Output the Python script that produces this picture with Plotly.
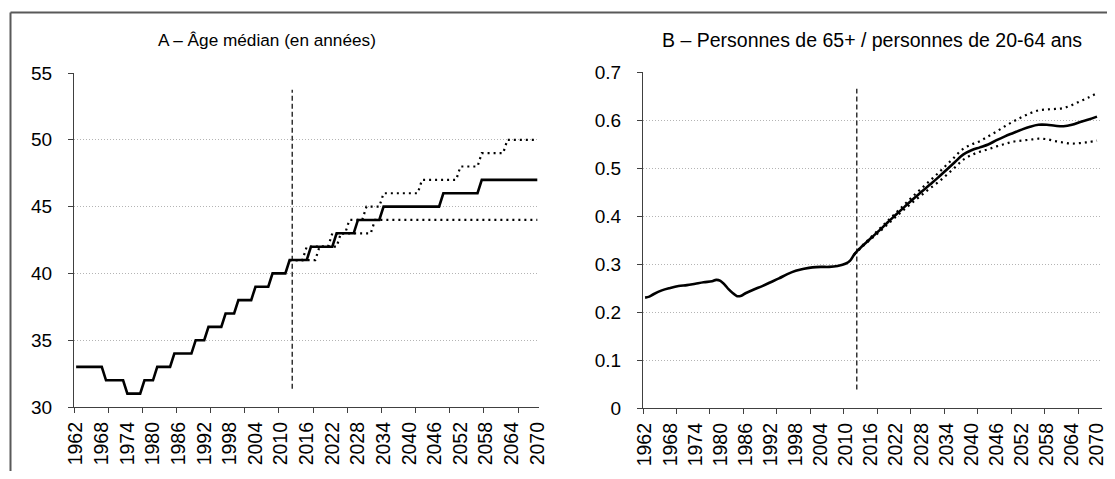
import plotly.graph_objects as go

# ---------------- data ----------------
YEARS = list(range(1962, 2071))
PROJ_YEARS = list(range(2012, 2071))

AGE_CENTRAL = [33, 33, 33, 33, 33, 33, 33,
               32, 32, 32, 32, 32,
               31, 31, 31, 31,
               32, 32, 32,
               33, 33, 33, 33,
               34, 34, 34, 34, 34,
               35, 35, 35,
               36, 36, 36, 36,
               37, 37, 37,
               38, 38, 38, 38,
               39, 39, 39, 39,
               40, 40, 40, 40,
               41, 41, 41, 41, 41,
               42, 42, 42, 42, 42, 42,
               43, 43, 43, 43, 43,
               44, 44, 44, 44, 44, 44,
               45, 45, 45, 45, 45, 45, 45, 45, 45, 45, 45, 45, 45, 45,
               46, 46, 46, 46, 46, 46, 46, 46, 46,
               47, 47, 47, 47, 47, 47, 47, 47, 47, 47, 47, 47, 47, 47]

AGE_HIGH = [41, 41, 41, 41,
            42, 42, 42, 42, 42, 42,
            43, 43, 43, 43,
            44, 44, 44, 44,
            45, 45, 45, 45,
            46, 46, 46, 46, 46, 46, 46, 46, 46,
            47, 47, 47, 47, 47, 47, 47, 47, 47,
            48, 48, 48, 48, 48,
            49, 49, 49, 49, 49, 49,
            50, 50, 50, 50, 50, 50, 50, 50]

AGE_LOW = [41, 41, 41, 41, 41, 41, 41,
           42, 42, 42, 42, 42,
           43, 43, 43, 43, 43, 43, 43, 43,
           44, 44, 44, 44, 44, 44, 44, 44, 44, 44, 44, 44, 44,
           44, 44, 44, 44, 44, 44, 44, 44, 44, 44, 44, 44, 44,
           44, 44, 44, 44, 44, 44, 44, 44, 44, 44, 44, 44, 44]

RATIO_YEARS = [1962, 1963, 1964, 1966, 1968, 1970, 1972, 1974, 1976, 1978, 1979,
               1980, 1981, 1982, 1983, 1984, 1985, 1986, 1988, 1990, 1992, 1994,
               1996, 1998, 2000, 2002, 2004, 2006, 2008, 2010, 2011, 2012, 2013,
               2014, 2016, 2018, 2020, 2022, 2024, 2026, 2028, 2030, 2032, 2034,
               2036, 2038, 2040, 2042, 2044, 2046, 2048, 2050, 2052, 2054, 2056,
               2058, 2060, 2062, 2064, 2066, 2068, 2070]
RATIO_CENTRAL = [0.230, 0.232, 0.237, 0.245, 0.250, 0.254, 0.256, 0.259, 0.262, 0.264, 0.267,
                 0.265, 0.257, 0.247, 0.239, 0.233, 0.234, 0.239, 0.247, 0.254, 0.262, 0.270,
                 0.279, 0.286, 0.290, 0.293, 0.294, 0.294, 0.296, 0.301, 0.307, 0.320, 0.330,
                 0.338, 0.354, 0.370, 0.387, 0.403, 0.419, 0.435, 0.450, 0.465, 0.480, 0.496,
                 0.512, 0.528, 0.537, 0.543, 0.549, 0.558, 0.566, 0.573, 0.580, 0.586, 0.590,
                 0.590, 0.588, 0.587, 0.590, 0.596, 0.601, 0.607]

RATIO_PROJ_YEARS = [2012, 2014, 2016, 2018, 2020, 2022, 2024, 2026, 2028, 2030, 2032,
                    2034, 2036, 2038, 2040, 2042, 2044, 2046, 2048, 2050, 2052, 2054,
                    2056, 2058, 2060, 2062, 2064, 2066, 2068, 2070]
RATIO_HIGH = [0.320, 0.339, 0.356, 0.373, 0.390, 0.407, 0.424, 0.441, 0.457, 0.473, 0.489,
              0.506, 0.523, 0.540, 0.549, 0.556, 0.566, 0.576, 0.587, 0.597, 0.606, 0.614,
              0.620, 0.622, 0.623, 0.625, 0.631, 0.639, 0.647, 0.656]
RATIO_LOW = [0.320, 0.337, 0.352, 0.367, 0.383, 0.399, 0.414, 0.429, 0.443, 0.457, 0.470,
             0.485, 0.501, 0.517, 0.527, 0.534, 0.539, 0.545, 0.550, 0.555, 0.557, 0.559,
             0.561, 0.560, 0.556, 0.553, 0.551, 0.552, 0.554, 0.557]

TICK_YEARS = list(range(1962, 2071, 6))
PROJECTION_MARK = 2012.6

TITLE_A = "A – Âge médian (en années)"
TITLE_B = "B – Personnes de 65+ / personnes de 20-64 ans"

# ---------------- figure ----------------
PAGE_W, PAGE_H, BODY = 1115, 479, 8       # browser body margin of the html page
W, H = PAGE_W - 2 * BODY, PAGE_H - 2 * BODY
FONT = "Liberation Sans, Arial, sans-serif"
AXCOL = "#404040"
DOT = "2px,4px"


def px(x):   # page pixel -> paper fraction (x)
    return (x - BODY) / W


def py(y):   # page pixel -> paper fraction (y)
    return 1 - (y - BODY) / H


fig = go.Figure()

fig.add_trace(go.Scatter(x=YEARS, y=AGE_CENTRAL, mode="lines",
                         line=dict(color="black", width=2.6), xaxis="x", yaxis="y"))
fig.add_trace(go.Scatter(x=PROJ_YEARS, y=AGE_HIGH, mode="lines",
                         line=dict(color="black", width=2.2, dash=DOT), xaxis="x", yaxis="y"))
fig.add_trace(go.Scatter(x=PROJ_YEARS, y=AGE_LOW, mode="lines",
                         line=dict(color="black", width=2.2, dash=DOT), xaxis="x", yaxis="y"))

fig.add_trace(go.Scatter(x=RATIO_PROJ_YEARS, y=RATIO_HIGH, mode="lines",
                         line=dict(color="black", width=2.2, dash=DOT, shape="spline"),
                         xaxis="x2", yaxis="y2"))
fig.add_trace(go.Scatter(x=RATIO_PROJ_YEARS, y=RATIO_LOW, mode="lines",
                         line=dict(color="black", width=2.2, dash=DOT, shape="spline"),
                         xaxis="x2", yaxis="y2"))
fig.add_trace(go.Scatter(x=RATIO_YEARS, y=RATIO_CENTRAL, mode="lines",
                         line=dict(color="black", width=2.6, shape="spline"),
                         xaxis="x2", yaxis="y2"))


def xaxis_cfg(domain, anchor, rng):
    return dict(
        domain=domain, range=rng, anchor=anchor, automargin=False,
        tickmode="array", tickvals=TICK_YEARS, ticktext=[str(v) for v in TICK_YEARS],
        tickangle=-90, ticks="", showgrid=False, zeroline=False,
        showline=True, linecolor=AXCOL, linewidth=1.3, ticklabelstandoff=6,
        ticklabeloverflow="allow",
        tickfont=dict(family=FONT, size=19.5, color="black"),
        minor=dict(tickmode="linear", tick0=1961.5, dtick=8, ticks="outside",
                   ticklen=5, tickcolor=AXCOL, tickwidth=1.3, showgrid=False),
    )


def yaxis_cfg(domain, rng, dtick, anchor):
    return dict(
        domain=domain, range=rng, dtick=dtick, tick0=rng[0], anchor=anchor, automargin=False,
        ticks="outside", ticklen=5, tickcolor=AXCOL, tickwidth=1.3, ticklabelstandoff=12,
        showline=True, linecolor=AXCOL, linewidth=1.3, zeroline=False,
        showgrid=True, gridcolor="#b4b4b4", gridwidth=1, griddash="1px,2px",
        tickfont=dict(family=FONT, size=19, color="black"),
    )


fig.update_layout(
    template="none",
    width=W, height=H, margin=dict(l=0, r=0, t=0, b=0, pad=0), autosize=False,
    paper_bgcolor="white", plot_bgcolor="white", showlegend=False,
    font=dict(family=FONT, color="black"),
    xaxis=xaxis_cfg([px(74), px(539)], "y", [1961.5, 2070.4]),
    xaxis2=xaxis_cfg([px(643), px(1102)], "y2", [1961.5, 2071.2]),
    yaxis=yaxis_cfg([py(407), py(73)], [30, 55], 5, "x"),
    yaxis2=yaxis_cfg([py(408), py(72)], [0, 0.7], 0.1, "x2"),
)

fig.add_annotation(text=TITLE_A, xref="paper", yref="paper", x=px(267), y=py(40),
                   showarrow=False, xanchor="center", yanchor="middle",
                   font=dict(family=FONT, size=17.2, color="black"))
fig.add_annotation(text=TITLE_B, xref="paper", yref="paper", x=px(872), y=py(40),
                   showarrow=False, xanchor="center", yanchor="middle",
                   font=dict(family=FONT, size=19.5, color="black"))

# projection start markers
for xr, yr in (("x", "y domain"), ("x2", "y2 domain")):
    fig.add_shape(type="line", xref=xr, yref=yr, x0=PROJECTION_MARK, x1=PROJECTION_MARK,
                  y0=0.055, y1=0.95, line=dict(color="black", width=1.2, dash="5px,3px"))

# outer frame (top and left edges visible)
fig.add_shape(type="line", xref="paper", yref="paper", x0=px(10.5), x1=1.0,
              y0=py(12.5), y1=py(12.5), line=dict(color="#595959", width=2))
fig.add_shape(type="line", xref="paper", yref="paper", x0=px(10.5), x1=px(10.5),
              y0=0, y1=py(12.5), line=dict(color="#595959", width=2))

fig.write_html("out.html")
